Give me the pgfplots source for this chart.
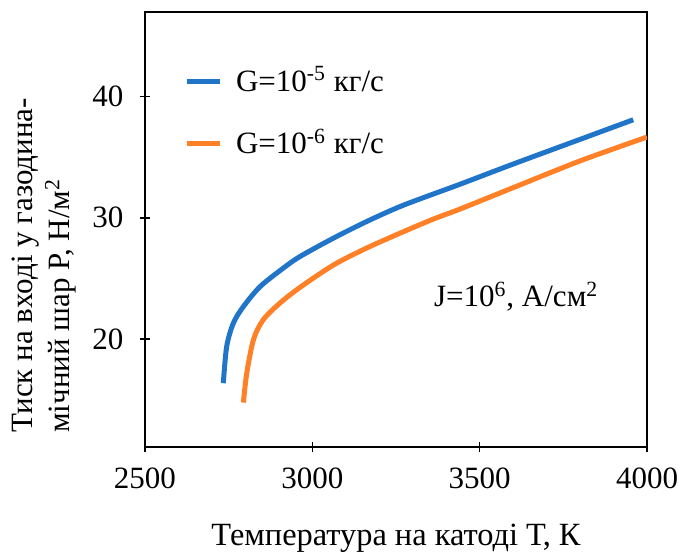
\documentclass[border=0pt]{standalone}
\usepackage{fontspec}
\setmainfont{Liberation Serif}
\usepackage{pgfplots}
\pgfplotsset{compat=1.18}
\definecolor{BlueLine}{RGB}{33,117,201}
\definecolor{OrangeLine}{RGB}{255,128,38}
\begin{document}
\fontsize{15.5}{18.5}\selectfont
\begin{tikzpicture}
\useasboundingbox (-72.5pt,-52.5pt) rectangle (266.5pt,223.5pt);
\begin{axis}[
    scale only axis,
    width=251pt, height=217.5pt,
    xmin=2500, xmax=4000,
    ymin=11.07, ymax=47,
    xtick={2500,3000,3500,4000},
    ytick={20,30,40},
    xtick pos=bottom, ytick pos=left,
    tick align=center,
    major tick length=5pt,
    axis line style={line width=0.75pt},
    tick style={line width=0.75pt, black},
    /pgf/number format/assume math mode=true,
    /pgf/number format/1000 sep={},
    ticklabel style={font=\fontsize{15.5}{18.5}\selectfont},
    xticklabel style={yshift=-2.5pt},
    yticklabel style={xshift=-3pt},
    xlabel={Температура на катоді Т, К},
    xlabel style={at={(axis description cs:0.5,-0.21)}, anchor=center, font=\fontsize{16.2}{19}\selectfont},
    ylabel={Тиск на вході у газодина-\\мічний шар P, Н/м\textsuperscript{2}},
    ylabel style={at={(axis description cs:-0.265,0.032)}, anchor=north west, align=left, inner sep=0pt, font=\fontsize{15.5}{18.5}\selectfont},
    legend style={draw=none, fill=none, at={(axis description cs:0.077,0.885)}, anchor=north west,
        font=\fontsize{15.5}{18.5}\selectfont, row sep=12.5pt, inner sep=0pt,
        /tikz/every odd column/.append style={column sep=5pt}},
    legend cell align=left,
    legend image code/.code={\draw[#1, line width=2.5pt] (0pt,0pt) -- (16.5pt,0pt);},
]
\addplot[BlueLine, line width=2.5pt, smooth] coordinates {
(2734,16.34) (2744,19.36) (2764,21.30) (2794,22.67) (2844,24.32) (2913,25.84)
(2963,26.80) (3063,28.32) (3162,29.69) (3262,30.93) (3361,31.96) (3441,32.77)
(3601,34.45) (3800,36.48) (3959,38.10)};
\addlegendentry{G=10\textsuperscript{-5} кг/с}
\addplot[OrangeLine, line width=2.5pt, smooth] coordinates {
(2794,14.74) (2804,17.16) (2824,19.92) (2853,21.57) (2903,22.95) (2963,24.25)
(3063,26.10) (3162,27.50) (3262,28.73) (3361,29.89) (3441,30.72) (3601,32.50)
(3800,34.70) (4000,36.67)};
\addlegendentry{G=10\textsuperscript{-6} кг/с}
\node at (axis cs:3609,23.5) {J=10\textsuperscript{6}, А/см\textsuperscript{2}};
\end{axis}
\end{tikzpicture}
\end{document}
